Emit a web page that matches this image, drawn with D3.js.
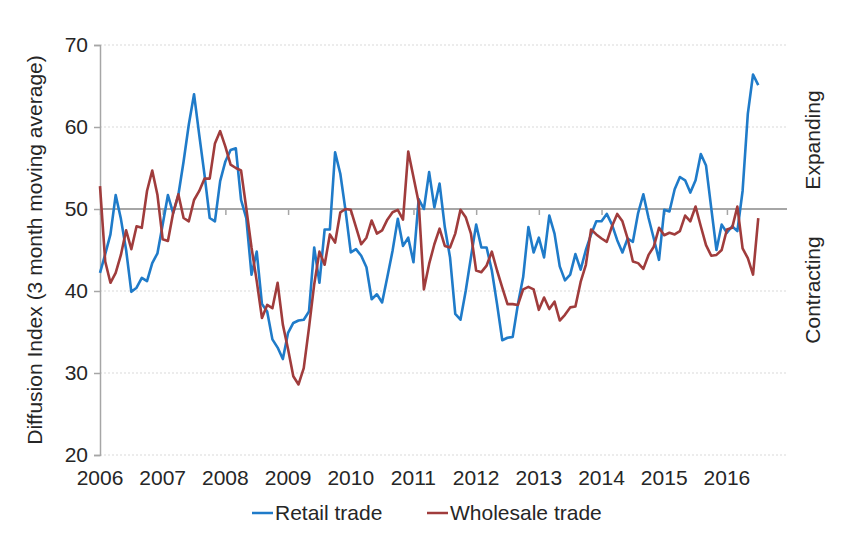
<!DOCTYPE html>
<html>
<head>
<meta charset="utf-8">
<script src="https://cdn.jsdelivr.net/npm/d3@7"></script>
<style>
  body { margin: 0; background: #fff; }
  text { font-family: "Liberation Sans Narrow", "Liberation Sans", sans-serif; fill: #262626; }
</style>
</head>
<body>
<script>
// monthly values, Jan 2006 .. Jul 2016
const years = ["2006", "2007", "2008", "2009", "2010", "2011", "2012", "2013", "2014", "2015", "2016"];
const yTicks = [20, 30, 40, 50, 60, 70];

const retail = [
  42.2, 44.5, 46.9, 51.7, 48.8, 45.0, 39.9, 40.4, 41.6, 41.2, 43.4, 44.6,
  48.1, 51.7, 49.5, 51.7, 55.8, 60.3, 64.0, 59.0, 54.2, 48.9, 48.5, 53.4,
  55.8, 57.2, 57.4, 51.1, 48.9, 42.0, 44.8, 38.4, 37.5, 34.1, 33.1, 31.7,
  34.9, 36.1, 36.4, 36.5, 37.5, 45.3, 41.0, 47.5, 47.5, 56.9, 54.3, 49.8,
  44.7, 45.1, 44.3, 42.9, 39.0, 39.6, 38.6, 41.7, 44.9, 48.8, 45.5, 46.5,
  43.5, 51.2, 50.0, 54.5, 50.2, 53.1, 47.8, 44.1, 37.2, 36.5, 40.0, 44.1,
  48.1, 45.3, 45.3, 42.5, 38.4, 34.0, 34.3, 34.4, 38.4, 41.7, 47.8, 44.7,
  46.5, 44.1, 49.2, 47.0, 43.0, 41.3, 42.0, 44.5, 42.6, 45.0, 46.9, 48.5,
  48.5, 49.4, 48.1, 46.2, 44.7, 46.4, 46.0, 49.5, 51.8, 48.9, 46.4, 43.8,
  49.9, 49.7, 52.4, 53.9, 53.5, 52.0, 53.5, 56.7, 55.3, 50.1, 45.0, 48.1,
  47.1, 47.9, 47.3, 52.2, 61.6, 66.4, 65.1
];

const wholesale = [
  52.8, 43.6, 41.0, 42.2, 44.4, 47.4, 45.1, 47.9, 47.7, 52.2, 54.7, 51.7,
  46.3, 46.1, 49.5, 51.8, 48.9, 48.5, 51.1, 52.2, 53.7, 53.7, 58.0, 59.5,
  57.6, 55.4, 55.0, 54.7, 50.1, 45.3, 41.2, 36.7, 38.3, 37.9, 41.0, 35.9,
  32.9, 29.6, 28.6, 30.6, 35.5, 40.8, 44.8, 43.2, 46.9, 45.9, 49.6, 50.0,
  49.9, 47.8, 45.7, 46.5, 48.6, 47.0, 47.4, 48.7, 49.6, 49.9, 48.7, 57.0,
  53.9, 50.8, 40.2, 43.3, 45.7, 47.6, 45.5, 45.3, 47.0, 49.9, 49.0, 47.0,
  42.5, 42.3, 43.1, 44.8, 42.5, 40.4, 38.4, 38.4, 38.3, 40.2, 40.5, 40.2,
  37.7, 39.2, 37.8, 38.7, 36.4, 37.1, 38.0, 38.1, 41.1, 43.2, 47.5, 46.9,
  46.4, 46.0, 47.9, 49.4, 48.5, 46.4, 43.6, 43.4, 42.7, 44.4, 45.4, 47.7,
  46.8, 47.1, 46.9, 47.3, 49.2, 48.5, 50.3, 47.9, 45.6, 44.3, 44.4, 45.0,
  47.5, 47.7, 50.3, 45.2, 44.0, 42.0, 48.9
];

const series = [
  { name: "Retail trade", values: retail, color: "#1f7bc9" },
  { name: "Wholesale trade", values: wholesale, color: "#a03c3c" }
];

function init() {
  const svg = d3.select("body").append("svg")
    .attr("width", 841)
    .attr("height", 540);

  const x = d3.scaleLinear().domain([0, 131.5]).range([100, 787]);
  const y = d3.scaleLinear().domain([20, 70]).range([455, 45]);

  // dotted gridlines
  svg.append("g").selectAll("line")
    .data(yTicks.filter(d => d != 50))
    .enter().append("line")
    .attr("x1", x(0)).attr("x2", x(131.5))
    .attr("y1", d => y(d)).attr("y2", d => y(d))
    .attr("stroke", "#d9d9d9")
    .attr("stroke-width", 1.2)
    .attr("stroke-dasharray", "2,2");

  // y axis
  const yAxis = svg.append("g")
    .attr("transform", `translate(${x(0)},0)`)
    .call(d3.axisLeft(y).tickValues(yTicks).tickSize(6).tickPadding(6));
  yAxis.select(".domain").attr("stroke", "#a6a6a6").attr("stroke-width", 1.5);
  yAxis.selectAll(".tick line").attr("stroke", "#a6a6a6").attr("stroke-width", 1.5);
  yAxis.selectAll(".tick text")
    .attr("font-size", "21px")
    .style("font-family", "'Liberation Sans Narrow', 'Liberation Sans', sans-serif")
    .attr("fill", "#262626");

  // horizontal axis crossing at 50
  const xAxis = svg.append("g")
    .attr("transform", `translate(0,${y(50)})`)
    .call(d3.axisBottom(x).tickValues(d3.range(0, 132, 12)).tickSize(6).tickFormat(""));
  xAxis.select(".domain").remove();
  xAxis.append("line")
    .attr("x1", x(0)).attr("x2", x(131.5))
    .attr("stroke", "#a6a6a6").attr("stroke-width", 2);
  xAxis.selectAll(".tick line").attr("stroke", "#a6a6a6").attr("stroke-width", 1.5);

  // year labels at the bottom
  svg.append("g").selectAll("text")
    .data(years)
    .enter().append("text")
    .attr("x", (d, i) => x(i * 12))
    .attr("y", 485)
    .attr("text-anchor", "middle")
    .attr("font-size", "21px")
    .text(d => d);

  // lines
  const line = d3.line()
    .x((d, i) => x(i))
    .y(d => y(d));

  svg.append("g").selectAll("path")
    .data(series)
    .enter().append("path")
    .attr("d", d => line(d.values))
    .attr("fill", "none")
    .attr("stroke", d => d.color)
    .attr("stroke-width", 2.6)
    .attr("stroke-linejoin", "round");

  // axis title
  svg.append("text")
    .attr("transform", "translate(42,250) rotate(-90)")
    .attr("text-anchor", "middle")
    .attr("font-size", "21px")
    .text("Diffusion Index (3 month moving average)");

  svg.append("text")
    .attr("transform", "translate(820,140) rotate(-90)")
    .attr("text-anchor", "middle")
    .attr("font-size", "21px")
    .text("Expanding");

  svg.append("text")
    .attr("transform", "translate(820,290) rotate(-90)")
    .attr("text-anchor", "middle")
    .attr("font-size", "21px")
    .text("Contracting");

  // legend
  const legendX = [252, 427];
  const leg = svg.append("g").selectAll("g")
    .data(series)
    .enter().append("g")
    .attr("transform", (d, i) => `translate(${legendX[i]},513)`);
  leg.append("line")
    .attr("x1", 0).attr("x2", 21)
    .attr("stroke", d => d.color)
    .attr("stroke-width", 2.5);
  leg.append("text")
    .attr("x", 23).attr("y", 7)
    .attr("font-size", "21px")
    .text(d => d.name);
}

init();
</script>
</body>
</html>
